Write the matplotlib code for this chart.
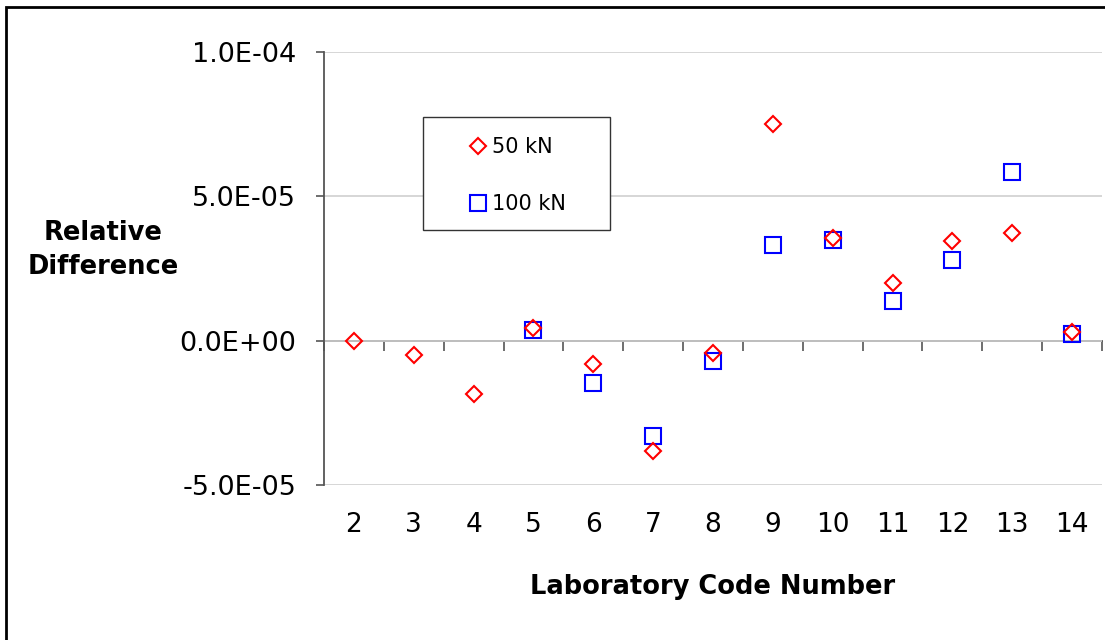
import numpy as np
import matplotlib
matplotlib.use("Agg")
import matplotlib.pyplot as plt
from matplotlib.patches import Rectangle
from matplotlib.ticker import FuncFormatter, NullFormatter

# Data
lab_codes = [2, 3, 4, 5, 6, 7, 8, 9, 10, 11, 12, 13, 14]
diff_50kN = [0.0, -0.50e-5, -1.85e-5, 0.44e-5, -0.80e-5, -3.82e-5, -0.43e-5,
             7.50e-5, 3.55e-5, 2.00e-5, 3.45e-5, 3.73e-5, 0.30e-5]
diff_100kN = [np.nan, np.nan, np.nan, 0.37e-5, -1.45e-5, -3.30e-5, -0.70e-5,
              3.30e-5, 3.50e-5, 1.37e-5, 2.80e-5, 5.85e-5, 0.23e-5]
y_ticks = [-5e-5, 0.0, 5e-5, 1e-4]

plt.rcParams["font.family"] = ["DejaVu Sans"]
axis_gray = "#555555"

fig = plt.figure(figsize=(11.05, 6.4), dpi=100)
ax = fig.add_axes([324 / 1105, 1 - 485 / 640, 778 / 1105, 433 / 640])

ax.plot(lab_codes, diff_50kN, linestyle="none", marker="D", markersize=8.2,
        markerfacecolor="none", markeredgecolor="#ff0000", markeredgewidth=1.5,
        label="50 kN", zorder=4)
ax.plot(lab_codes, diff_100kN, linestyle="none", marker="s", markersize=11.5,
        markerfacecolor="none", markeredgecolor="#0000ff", markeredgewidth=1.5,
        label="100 kN", zorder=3)

ax.set_xlim(1.5, 14.5)
ax.set_ylim(-5e-5, 1e-4)
ax.set_yticks(y_ticks)
ax.yaxis.set_major_formatter(FuncFormatter(lambda v, p: f"{v:.1E}"))
ax.tick_params(axis="y", direction="out", length=6, width=1.2, color=axis_gray,
               labelsize=19.5, pad=14)
ax.set_xticks(lab_codes)
ax.tick_params(axis="x", length=0, labelsize=19, pad=19.5)

ax.yaxis.grid(True, color="#d0d0d0", linewidth=1.2)
ax.set_axisbelow(True)
for side in ["top", "bottom", "right"]:
    ax.spines[side].set_visible(False)
ax.spines["left"].set_color(axis_gray)
ax.spines["left"].set_linewidth(1.3)

# zero line with category boundary ticks
zero_axis = ax.secondary_xaxis(1 / 3)
zero_axis.xaxis.set_ticks_position("bottom")
zero_axis.set_xticks(np.arange(1.5, 15, 1.0))
zero_axis.xaxis.set_major_formatter(NullFormatter())
zero_axis.tick_params(direction="out", length=7, width=1.2, color=axis_gray,
                      labelbottom=False, labeltop=False)
zero_axis.spines["bottom"].set_color(axis_gray)
zero_axis.spines["bottom"].set_linewidth(1.3)

ax.set_xlabel("Laboratory Code Number", fontsize=18.5, fontweight="bold")
ax.xaxis.set_label_coords(0.5, (485 - 587) / 433)
ax.xaxis.label.set_va("center")
ax.set_ylabel("Relative\nDifference", fontsize=18.5, fontweight="bold",
              rotation=0, linespacing=1.45, ha="center", va="center")
ax.yaxis.set_label_coords((103 - 324) / 778, (485 - 250) / 433)

# legend frame drawn separately so its padding can match the reference
ax.add_patch(Rectangle(((423 - 324) / 778, (485 - 230) / 433), 187 / 778, 113 / 433,
                       transform=ax.transAxes, fill=True, facecolor="white",
                       edgecolor="#333333", linewidth=1.0, zorder=5))
leg = ax.legend(loc="upper left", bbox_to_anchor=((473 - 324) / 778, (485 - 137) / 433),
                fontsize=15, frameon=False, borderpad=0, labelspacing=1.8,
                handlelength=0.5, handletextpad=0.4, borderaxespad=0)
leg.set_zorder(6)

fig.patches.append(Rectangle((6 / 1105, -0.1), 1.2, 1.1 - 7 / 640,
                             transform=fig.transFigure, fill=False,
                             edgecolor="black", linewidth=2))

fig.savefig("out.png", dpi=100)
